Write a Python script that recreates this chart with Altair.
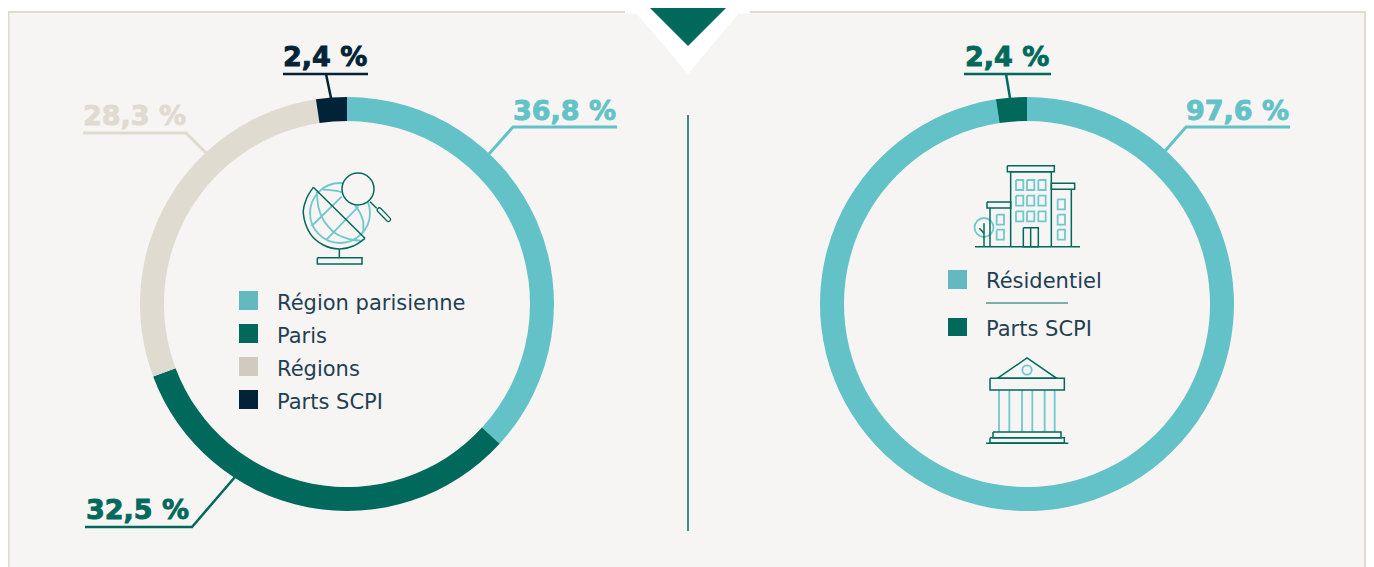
import altair as alt
import pandas as pd

W, H = 1358, 559
TEAL, GREEN, BEIGE, NAVY = "#63c2c8", "#00695c", "#e0dbd1", "#002337"
INK = "#1f4053"
ICON_TEAL = "#6fc8cd"
BG = "#f7f5f3"

left_names = ["Région parisienne", "Paris", "Régions", "Parts SCPI"]
left_values = [36.8, 32.5, 28.3, 2.4]
left_colors = [TEAL, GREEN, BEIGE, NAVY]
left_swatches = ["#63b9bf", GREEN, "#d2cabf", NAVY]
right_names = ["Résidentiel", "Parts SCPI"]
right_values = [97.6, 2.4]
right_colors = [TEAL, GREEN]
right_swatches = ["#63b9bf", GREEN]
center_left = (347, 304)
center_right = (1027, 304)

xs = alt.Scale(domain=[8, 8 + W], range=[0, W], nice=False, zero=False)
ys = alt.Scale(domain=[8, 8 + H], range=[0, H], nice=False, zero=False)
X = lambda f="x": alt.X(f"{f}:Q", scale=xs, axis=None)
Y = lambda f="y": alt.Y(f"{f}:Q", scale=ys, axis=None)


def rect(x0, y0, x1, y1, color, **kw):
    d = pd.DataFrame({"x": [x0], "x2": [x1], "y": [y0], "y2": [y1]})
    return alt.Chart(d).mark_rect(color=color, **kw).encode(
        x=X(), x2="x2:Q", y=Y(), y2="y2:Q")


def triangle(xa, xb, xc, ytop, ybot, color):
    d = pd.DataFrame({"x": [xa, xb, xc], "y": [ytop] * 3, "y2": [ytop, ybot, ytop]})
    return alt.Chart(d).mark_area(color=color, opacity=1).encode(
        x=X(), y=Y(), y2="y2:Q")


def lines(polys, color, width, interpolate="linear", cap="butt"):
    rows = [{"id": i, "k": k, "x": p[0], "y": p[1]}
            for i, poly in enumerate(polys) for k, p in enumerate(poly)]
    return alt.Chart(pd.DataFrame(rows)).mark_line(
        color=color, strokeWidth=width, interpolate=interpolate, strokeCap=cap,
        strokeJoin="miter").encode(
        x=X(), y=Y(), detail="id:N", order="k:Q")


def circle(cx, cy, r, color, width, fill=None):
    d = pd.DataFrame({"x": [cx], "y": [cy]})
    kw = {"fill": fill, "fillOpacity": 1} if fill else {}
    return alt.Chart(d).mark_point(
        shape="circle", stroke=color, strokeWidth=width, opacity=1, size=4 * r * r, **kw
    ).encode(x=X(), y=Y())


def donut(names, values, colors, center):
    d = pd.DataFrame({"name": names, "v": values, "i": range(len(values)),
                      "x": center[0], "y": center[1]})
    return alt.Chart(d).mark_arc(radius=207, radius2=183).encode(
        theta=alt.Theta("v:Q", stack=True, scale=alt.Scale(domain=[0, 100])),
        order=alt.Order("i:Q"),
        color=alt.Color("name:N", scale=alt.Scale(domain=names, range=colors), legend=None),
        x=X(), y=Y(),
    )


def text(s, x, y, size, color, font, weight="normal", **kw):
    d = pd.DataFrame({"x": [x], "y": [y], "t": [s]})
    return alt.Chart(d).mark_text(
        align="left", baseline="alphabetic", font=font, fontSize=size,
        fontWeight=weight, color=color, **kw).encode(x=X(), y=Y(), text="t:N")


def pct(s, x, y, color):
    return text(s, x, y, 27, color, "DejaVu Sans", "bold", stroke=color, strokeWidth=0.9)


def legend_text(s, x, y):
    return text(s, x, y, 21, INK, "DejaVu Sans")


def z(ox, oy, pts):
    return [(ox + a / 3, oy + b / 3) for a, b in pts]


def box(ox, oy, x0, y0, x1, y1):
    return z(ox, oy, [(x0, y0), (x1, y0), (x1, y1), (x0, y1), (x0, y0)])


layers = [
    rect(8.5, 12, 1365, 580, BG, stroke=BEIGE, strokeWidth=2),
    triangle(625, 688, 750, 0, 74, "#ffffff"),
    rect(625, 0, 750, 13.5, "#ffffff"),
    triangle(650, 688, 726, 8, 46, GREEN),
    lines([[(688, 115), (688, 531)]], GREEN, 1.5),
]

# ---- leader lines
layers += [
    lines([[(617, 127), (513, 127), (489, 154)]], TEAL, 3),
    lines([[(368, 74), (283, 74)], [(326, 74), (331, 98)]], NAVY, 2.5),
    lines([[(83, 133), (186, 133), (206, 153)]], BEIGE, 3),
    lines([[(85, 527), (192, 527), (235, 477)]], GREEN, 2.5),
    lines([[(964, 74), (1051, 74)], [(1006, 74), (1010, 98)]], GREEN, 2.5),
    lines([[(1290, 127), (1186, 127), (1165, 151)]], TEAL, 3),
]

# ---- donuts
layers += [
    donut(left_names, left_values, left_colors, center_left),
    donut(right_names, right_values, right_colors, center_right),
]

# ---- percent labels
layers += [
    pct("36,8 %", 513, 120, TEAL),
    pct("2,4 %", 283, 66, NAVY),
    pct("28,3 %", 83, 125, BEIGE),
    pct("32,5 %", 86, 519, GREEN),
    pct("2,4 %", 965, 66, GREEN),
    pct("97,6 %", 1186, 120, TEAL),
]

# ---- legends
for i, (n, c) in enumerate(zip(left_names, left_swatches)):
    top = 291 + 33 * i
    layers += [rect(239, top, 258, top + 19, c), legend_text(n, 277, top + 19)]
layers += [
    rect(948, 270, 967, 289, right_swatches[0]),
    legend_text(right_names[0], 986, 288),
    lines([[(986, 303), (1068, 303)]], GREEN, 1),
    rect(948, 318, 967, 336, right_swatches[1]),
    legend_text(right_names[1], 986, 336),
]

# ---- globe icon
gx, gy = 270, 150
layers += [
    circle(340, 213, 30, ICON_TEAL, 1.8),
    lines([z(gx, gy, [(140, 125), (145, 170), (175, 230), (230, 265), (272, 272)]),
           z(gx, gy, [(155, 118), (210, 125), (250, 160), (280, 215), (280, 250)])],
          ICON_TEAL, 1.8, "monotone"),
    lines([z(gx, gy, [(215, 140), (125, 228)]), z(gx, gy, [(265, 170), (170, 268)])],
          ICON_TEAL, 1.8),
    lines([z(gx, gy, [(285, 265), (250, 288), (208, 297), (160, 285), (120, 250),
                      (100, 190), (110, 145), (130, 112)])], GREEN, 1.5, "cardinal"),
    lines([z(gx, gy, [(130, 112), (285, 265)]),
           z(gx, gy, [(208, 298), (208, 322)]),
           z(gx, gy, [(300, 155), (320, 175)]),
           box(gx, gy, 142, 323, 276, 342)], GREEN, 1.5),
    lines([z(gx, gy, [(328, 180), (355, 208)])], GREEN, 5.5, cap="round"),
    lines([z(gx, gy, [(328, 180), (355, 208)])], BG, 3, cap="round"),
    circle(358, 189, 16, GREEN, 1.5, fill=BG),
]

# ---- building icon
bx, by = 960, 155
win = []
for x0 in (168, 201, 235):
    for y0 in (75, 122, 169):
        win.append(box(bx, by, x0, y0, x0 + 22, y0 + 30))
for y0 in (133, 179, 224):
    win.append(box(bx, by, 293, y0, 315, y0 + 30))
for y0 in (179, 224):
    win.append(box(bx, by, 110, y0, 132, y0 + 30))
layers += [
    lines(win, ICON_TEAL, 1.8),
    circle(984, 227.5, 9.5, ICON_TEAL, 1.8),
    lines([z(bx, by, [(45, 275), (360, 275)]),
           z(bx, by, [(152, 275), (152, 50), (274, 50), (274, 275)]),
           box(bx, by, 142, 32, 283, 50),
           box(bx, by, 274, 85, 344, 103),
           z(bx, by, [(334, 103), (334, 275)]),
           box(bx, by, 81, 141, 152, 159),
           z(bx, by, [(90, 159), (90, 275)]),
           box(bx, by, 190, 218, 235, 275),
           z(bx, by, [(212, 218), (212, 275)]),
           z(bx, by, [(72, 205), (72, 275)]),
           z(bx, by, [(58, 220), (72, 235)])], GREEN, 1.5),
]

# ---- bank icon
kx, ky = 970, 350
layers += [
    lines([z(kx, ky, [(a, 120), (a, 246)]) for a in (87, 118, 156, 187, 224, 254)],
          ICON_TEAL, 1.8),
    circle(1027, 370, 4.7, ICON_TEAL, 1.8),
    lines([z(kx, ky, [(82, 85), (171, 24), (260, 85), (82, 85)]),
           box(kx, ky, 60, 85, 283, 120),
           box(kx, ky, 69, 246, 273, 263),
           box(kx, ky, 60, 263, 283, 279),
           z(kx, ky, [(48, 280), (295, 280)])], GREEN, 1.5),
]

chart = alt.layer(*layers).resolve_scale(color="independent").properties(
    width=W, height=H, padding=0, autosize=alt.AutoSizeParams(type="none"),
    background="#ffffff",
).configure_view(stroke=None)

chart.save("out.html", embed_options={"renderer": "svg", "actions": False})
